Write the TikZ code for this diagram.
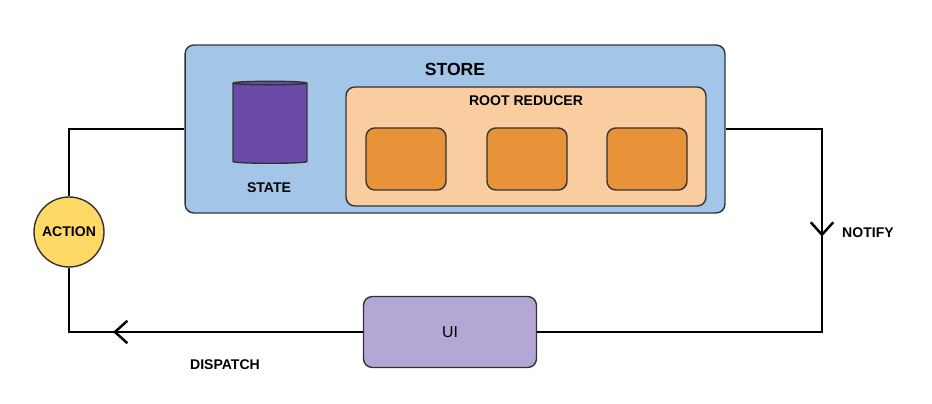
\documentclass[tikz,border=0pt]{standalone}
\usepackage{fontspec}
\setmainfont{Liberation Sans}
\usetikzlibrary{shapes.geometric,decorations.markings,arrows.meta}
\definecolor{storeblue}{HTML}{A3C6E8}
\definecolor{reducerpeach}{HTML}{F9CDA0}
\definecolor{reducerorange}{HTML}{E8923A}
\definecolor{statepurple}{HTML}{6A4BA8}
\definecolor{actionyellow}{HTML}{FFD966}
\definecolor{uililac}{HTML}{B4A7D6}
\begin{document}
\begin{tikzpicture}[x=0.02cm, y=-0.02cm, line width=1pt,
  box/.style={rectangle, rounded corners=5pt, draw=black!80, line width=0.8pt},
  label/.style={font=\bfseries\fontsize{8}{9}\selectfont},
  flow/.style={line width=1.4pt},
  chevron/.style={postaction={decorate}, decoration={markings,
    mark=at position #1 with {\arrow{Straight Barb[length=2.5mm,width=4.5mm,line width=1.4pt]}}}}]

  \useasboundingbox (0,0) rectangle (932,404);

  \node[box, fill=storeblue, minimum width=10.8cm, minimum height=3.36cm] (store) at (455,129) {};
  \node[font=\bfseries\fontsize{10}{12}\selectfont] (storelabel) at (455,69) {STORE};

  \node[box, fill=reducerpeach, minimum width=7.2cm, minimum height=2.38cm] (root) at (526,146.5) {};
  \node[label] (rootlabel) at (526,101) {ROOT REDUCER};
  \foreach \x/\n in {406/one, 527/two, 647/three}
    \node[box, fill=reducerorange, minimum width=1.6cm, minimum height=1.24cm] (red\n) at (\x,159) {};

  \node[cylinder, shape border rotate=90, aspect=0.3, draw=black!80, line width=0.8pt,
    fill=statepurple, minimum width=1.48cm, minimum height=1.64cm] (state) at (270,124) {};
  \node[label] (statelabel) at (269,188) {STATE};

  \node[circle, draw=black!80, line width=0.8pt, fill=actionyellow, minimum size=1.4cm,
    inner sep=0pt, label] (action) at (69,232) {ACTION};

  \node[box, fill=uililac, minimum width=3.46cm, minimum height=1.42cm,
    font=\fontsize{9}{11}\selectfont] (ui) at (450,332) {UI};

  \coordinate (topleft) at (69,129);
  \coordinate (bottomleft) at (69,332);
  \coordinate (topright) at (822,129);
  \coordinate (bottomright) at (822,332);

  \draw[flow] (store.west) -- (topleft) -- (action.north);
  \draw[flow] (action.south) -- (bottomleft) -- (ui.west);
  \draw[flow] (store.east) -- (topright) -- (bottomright) -- (ui.east);
  \draw[flow, chevron=0.85] (ui.west) -- (bottomleft);
  \draw[flow, chevron=0.53] (topright) -- (bottomright);

  \node[label] (notify) at (868,233) {NOTIFY};
  \node[label] (dispatch) at (225,365) {DISPATCH};
\end{tikzpicture}
\end{document}
